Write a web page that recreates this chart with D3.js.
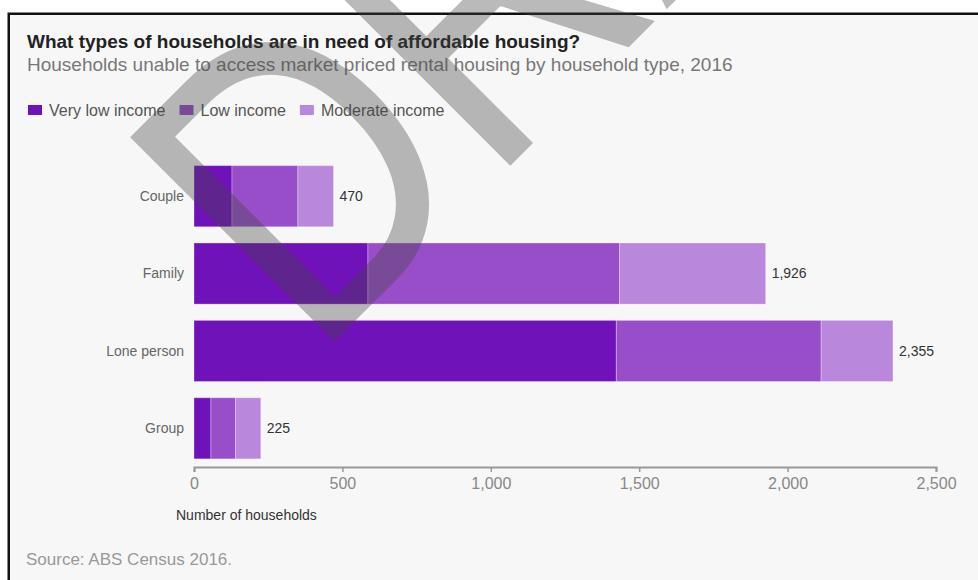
<!DOCTYPE html>
<html>
<head>
<meta charset="utf-8">
<script src="https://cdn.jsdelivr.net/npm/d3@7"></script>
<style>
  html, body { margin: 0; padding: 0; background: #ffffff; }
  svg { display: block; font-family: "Liberation Sans", Arial, sans-serif; }
</style>
</head>
<body>
<svg id="chart" width="978" height="580"></svg>
<script>
// Household types and the three income bands stacked in each bar
const categories = ["Couple", "Family", "Lone person", "Group"];
const seriesNames = ["Very low income", "Low income", "Moderate income"];
const veryLowIncome = [128, 586, 1423, 57];
const lowIncome = [222, 848, 690, 83];
const moderateIncome = [120, 492, 242, 85];
const xTicks = [0, 500, 1000, 1500, 2000, 2500];
const colors = ["#7012b9", "#984ec9", "#b987dc"];

const svg = d3.select("#chart");

// panel with a heavy rule on the top and left edges
svg.append("rect")
  .attr("x", 8.75).attr("y", 13.75)
  .attr("width", 1000).attr("height", 1000)
  .attr("fill", "#f7f7f7")
  .attr("stroke", "#111").attr("stroke-width", 2.5);

// headings
svg.append("text")
  .attr("x", 27).attr("y", 48)
  .attr("font-size", 19).attr("font-weight", "bold").attr("fill", "#222")
  .text("What types of households are in need of affordable housing?");
svg.append("text")
  .attr("x", 27).attr("y", 71)
  .attr("font-size", 19).attr("fill", "#777")
  .text("Households unable to access market priced rental housing by household type, 2016");

// legend
const legend = svg.append("g");
let lx = 28;
seriesNames.forEach((name, i) => {
  legend.append("rect")
    .attr("x", lx).attr("y", 105).attr("width", 14).attr("height", 10)
    .attr("fill", colors[i]);
  const t = legend.append("text")
    .attr("x", lx + 21).attr("y", 116)
    .attr("font-size", 16).attr("fill", "#555")
    .text(name);
  lx += 21 + t.node().getComputedTextLength() + 14;
});

// scales
const x = d3.scaleLinear().domain([0, 2500]).range([194, 936]);
const y = d3.scaleBand().domain(categories).range([157.5, 467])
  .paddingInner(0.21).paddingOuter(0.105);

// stacked bars
const rows = categories.map((c, i) => ({
  category: c,
  "Very low income": veryLowIncome[i],
  "Low income": lowIncome[i],
  "Moderate income": moderateIncome[i]
}));
const stack = d3.stack().keys(seriesNames)(rows);

svg.append("g").selectAll("g")
  .data(stack).join("g")
  .attr("fill", (d, i) => colors[i])
  .selectAll("rect")
  .data(d => d).join("rect")
  .attr("x", d => x(d[0]))
  .attr("y", d => y(d.data.category))
  .attr("width", d => x(d[1]) - x(d[0]))
  .attr("height", y.bandwidth())
  .attr("stroke", "rgba(255,255,255,0.3)")
  .attr("stroke-width", 1);

// category labels
svg.append("g").selectAll("text")
  .data(categories).join("text")
  .attr("x", 184)
  .attr("y", d => y(d) + y.bandwidth() / 2)
  .attr("dy", "0.35em")
  .attr("text-anchor", "end")
  .attr("font-size", 14).attr("fill", "#666")
  .text(d => d);

// totals at the end of each bar
const fmt = d3.format(",");
const total = d => d["Very low income"] + d["Low income"] + d["Moderate income"];
svg.append("g").selectAll("text")
  .data(rows).join("text")
  .attr("x", d => x(total(d)) + 6)
  .attr("y", d => y(d.category) + y.bandwidth() / 2)
  .attr("dy", "0.35em")
  .attr("font-size", 14).attr("fill", "#333")
  .text(d => fmt(total(d)));

// x axis
const axis = svg.append("g")
  .attr("transform", "translate(0,467)")
  .call(d3.axisBottom(x).tickValues(xTicks).tickFormat(fmt).tickSize(5).tickSizeOuter(5).tickPadding(6));
axis.select(".domain").attr("stroke", "#999").attr("stroke-width", 2);
axis.selectAll(".tick line").attr("stroke", "#999").attr("stroke-width", 1.5);
axis.selectAll(".tick text")
  .attr("font-family", "\"Liberation Sans\", Arial, sans-serif")
  .attr("font-size", 16).attr("fill", "#888");

svg.append("text")
  .attr("x", 176).attr("y", 520)
  .attr("font-size", 14).attr("fill", "#333")
  .text("Number of households");

svg.append("text")
  .attr("x", 26).attr("y", 565)
  .attr("font-size", 17).attr("fill", "#999")
  .text("Source: ABS Census 2016.");

// translucent DRAFT stamp across the panel, set in a narrowed face
svg.append("text")
  .attr("transform", "translate(333,343) rotate(-45) scale(0.82,1)")
  .attr("x", -32).attr("y", 0)
  .attr("font-family", "\"Liberation Sans\", Arial, sans-serif")
  .attr("font-size", 420)
  .attr("fill", "#444").attr("fill-opacity", 0.37)
  .text("DRAFT");
</script>
</body>
</html>
